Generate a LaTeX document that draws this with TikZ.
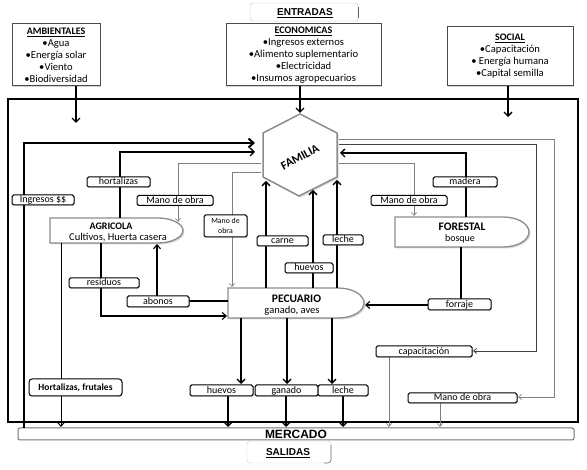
\documentclass[tikz,border=0pt]{standalone}
\usepackage{fontspec}
\setmainfont{Carlito}
\newfontfamily\arialf{Liberation Sans}
\usetikzlibrary{arrows.meta,shadows}
\newcommand{\boxttl}[1]{{\fontsize{10}{12}\selectfont\underline{\textbf{#1}}}}
\tikzset{
  lbl/.style={draw=black, line width=1pt, rounded corners=1.6pt, fill=white, inner sep=0pt, minimum height=10pt,
     text height=6.8pt, text depth=1.6pt, font=\fontsize{10}{10}\selectfont,
     drop shadow={shadow xshift=0.7pt, shadow yshift=-0.7pt, opacity=0.45}},
  inbox/.style={draw=gray!60!black, line width=1pt, fill=white, inner sep=0pt, align=center, font=\fontsize{10.6}{12}\selectfont, drop shadow={shadow xshift=1.2pt, shadow yshift=-1.2pt, opacity=0.35}},
  shp/.style={draw=black!45, line width=1.3pt, fill=white, drop shadow={shadow xshift=1.5pt, shadow yshift=-1.5pt, opacity=0.3}},
  anchorbox/.style={inner sep=0pt, draw=none},
  thk/.style={line width=2pt, -{Straight Barb[length=5pt,width=9pt]}},
  med/.style={line width=1.3pt, -{Straight Barb[length=4pt,width=8pt]}},
  gry/.style={draw=black!50, line width=0.7pt, -{Straight Barb[length=3pt,width=5pt]}},
  ttl/.style={font=\bfseries\fontsize{11.5}{12}\selectfont, inner sep=0pt},
  sub/.style={font=\fontsize{10.5}{12}\selectfont, inner sep=0pt},
}
\begin{document}
\begin{tikzpicture}[x=1pt,y=-1pt]
\useasboundingbox (0,0) rectangle (587,470);

% ---- headers ----
\draw[black!25, rounded corners=3pt] (250,3) rectangle (358,21);
\draw[black!60, line width=0.6pt] (358,7) -- (358,18);
\node[font=\arialf\bfseries\fontsize{10}{10}\selectfont, inner sep=0pt] (entr) at (305,13) {\underline{ENTRADAS}};

\node[inbox, minimum width=88, minimum height=62] (amb) at (56,55)
 {\boxttl{AMBIENTALES}\\•Agua\\•Energía solar\\•Viento\\•Biodiversidad};
\node[inbox, minimum width=155, minimum height=62] (eco) at (303.5,55)
 {\boxttl{ECONOMICAS}\\•Ingresos externos\\•Alimento suplementario\\•Electricidad\\•Insumos agropecuarios};
\node[inbox, minimum width=126, minimum height=59] (soc) at (510,56.5)
 {\boxttl{SOCIAL}\\•Capacitación\\• Energía humana\\•Capital semilla};

% ---- system frame ----
\node[draw, line width=1.4pt, minimum width=570, minimum height=323, inner sep=0pt] (sys) at (293,260.5) {};

% ---- market bar ----
\node[draw=black!55, line width=1pt, rounded corners=2pt, fill=white, minimum width=556, minimum height=12, inner sep=0pt,
      font=\arialf\bfseries\fontsize{12}{12}\selectfont] (merc) at (296,434) {MERCADO};
\draw[black!20, rounded corners=3pt] (247,441) rectangle (331,463);
\draw[black!55, line width=0.6pt, rounded corners=3pt] (331,445) -- (331,463) -- (324,463);
\node[font=\arialf\bfseries\fontsize{10}{10}\selectfont, inner sep=0pt] (sal) at (288,453) {\underline{SALIDAS}};

% ---- FAMILIA ----
\draw[shp, line width=1.5pt] (300,114) -- (337,133) -- (337,177) -- (299,196) -- (263,177) -- (263,133) -- cycle;
\node[anchorbox, minimum width=74, minimum height=82] (fam) at (300,155) {};
\node[font=\bfseries\fontsize{12}{12}\selectfont, rotate=28, inner sep=0pt] (famt) at (300,157) {FAMILIA};

% ---- AGRICOLA ----
\draw[shp] (50,218) -- (158,218) .. controls (172,218) and (183,224) .. (183,230.5)
  .. controls (183,237) and (172,243) .. (158,243) -- (50,243) -- cycle;
\node[anchorbox, minimum width=133, minimum height=25] (agr) at (116.5,230.5) {};
\node[ttl, font=\bfseries\fontsize{10}{12}\selectfont] (agrt) at (111,226.5) {AGRICOLA};
\node[sub] (agrs) at (118,238) {Cultivos, Huerta casera};

% ---- FORESTAL ----
\draw[shp] (395,217) -- (503,217) .. controls (518,217) and (529,224) .. (529,232)
  .. controls (529,240) and (518,247) .. (503,247) -- (395,247) -- cycle;
\node[anchorbox, minimum width=134, minimum height=30] (for) at (462,232) {};
\node[ttl] (fort) at (462,227) {FORESTAL};
\node[sub, font=\fontsize{10}{12}\selectfont] (fors) at (460,238.5) {bosque};

% ---- PECUARIO ----
\draw[shp] (228,288) -- (338,288) .. controls (353,288) and (364,295) .. (364,303)
  .. controls (364,311) and (353,318) .. (338,318) -- (228,318) -- cycle;
\node[anchorbox, minimum width=136, minimum height=30] (pec) at (296,303) {};
\node[ttl] (pect) at (296.5,299) {PECUARIO};
\node[sub] (pecs) at (292,310.5) {ganado, aves};

% ---- input arrows ----
\draw[med] (76,86) -- (76,123);
\draw[med] (300,86) -- (300,113);
\draw[med] (508,86) -- (508,117);

% ---- connectors left of FAMILIA ----
\draw[thk] (24,428) -- (24,143) -- (255,143);
\draw[med] (120,218) -- (120,152) -- (255,152);
\draw[gry] (261,163) -- (178,163) -- (178,222);
\draw[gry] (261,172) -- (232,172) -- (232,287);

% ---- below FAMILIA ----
\draw[med] (266,288) -- (266,181);
\draw[med] (313,288) -- (313,190);
\draw[med] (337,288) -- (337,180);

% ---- right of FAMILIA ----
\draw[med] (466,217) -- (466,153) -- (340,153);
\draw[gry] (339,163) -- (414,163) -- (414,216);
\draw[draw=black!75, line width=0.8pt, -{Straight Barb[length=3pt,width=5pt]}] (339,144) -- (536,144) -- (536,351) -- (473,351);
\draw[gry] (339,139) -- (554,139) -- (554,397) -- (518,397);

% ---- between subsystems ----
\draw[line width=1pt, -{Straight Barb[length=4pt,width=7pt]}] (61,243) -- (61,427);
\draw[line width=1.1pt, -{Straight Barb[length=4pt,width=7pt]}] (101,243) -- (101,316) -- (227,316);
\draw[line width=1.1pt, -{Straight Barb[length=4pt,width=7pt]}] (228,301) -- (157,301) -- (157,244);
\draw[line width=1.1pt, -{Straight Barb[length=4pt,width=7pt]}] (461,247) -- (461,305) -- (365,305);

% ---- PECUARIO to outputs ----
\draw[med] (241,318) -- (241,384);
\draw[med] (287,318) -- (287,384);
\draw[med] (332,318) -- (332,384);
\draw[med] (228,396) -- (228,427);
\draw[med] (286,396) -- (286,427);
\draw[med] (343,396) -- (343,427);
\draw[gry] (389,357) -- (389,427);
\draw[gry] (440,403) -- (440,427);

% ---- labels ----
\node[lbl, minimum width=63] (l1) at (118.5,182) {hortalizas};
\node[lbl, minimum width=62] (l2) at (43,200) {Ingresos \$\$};
\node[lbl, minimum width=76] (l3) at (175,200.5) {Mano de obra};
\node[lbl, minimum width=43, minimum height=22, text height=, text depth=, align=center, font=\fontsize{7.8}{10}\selectfont] (l4) at (225.5,226) {Mano de\\obra};
\node[lbl, minimum width=51] (l5) at (282.5,241) {carne};
\node[lbl, minimum width=40] (l6) at (343,240) {leche};
\node[lbl, minimum width=48] (l7) at (309,268) {huevos};
\node[lbl, minimum width=64] (l8) at (465,182) {madera};
\node[lbl, minimum width=76] (l9) at (409,200.5) {Mano de obra};
\node[lbl, minimum width=70] (l10) at (104,283) {residuos};
\node[lbl, minimum width=62, minimum height=11] (l11) at (158,301.5) {abonos};
\node[lbl, minimum width=63, minimum height=11] (l12) at (459.5,304.5) {forraje};
\node[lbl, minimum width=96, minimum height=11] (l13) at (424,351.5) {capacitación};
\node[lbl, minimum width=93, minimum height=17, rounded corners=3pt, font=\bfseries\fontsize{9.5}{10}\selectfont] (l14) at (75.5,387.5) {Hortalizas, frutales};
\node[lbl, minimum width=109] (l15) at (462.5,398) {Mano de obra};
\node[lbl, minimum width=63, minimum height=11] (l16) at (221.5,390.5) {huevos};
\node[lbl, minimum width=63, minimum height=11] (l17) at (286.5,390.5) {ganado};
\node[lbl, minimum width=50, minimum height=11] (l18) at (343,390.5) {leche};
\end{tikzpicture}
\end{document}
